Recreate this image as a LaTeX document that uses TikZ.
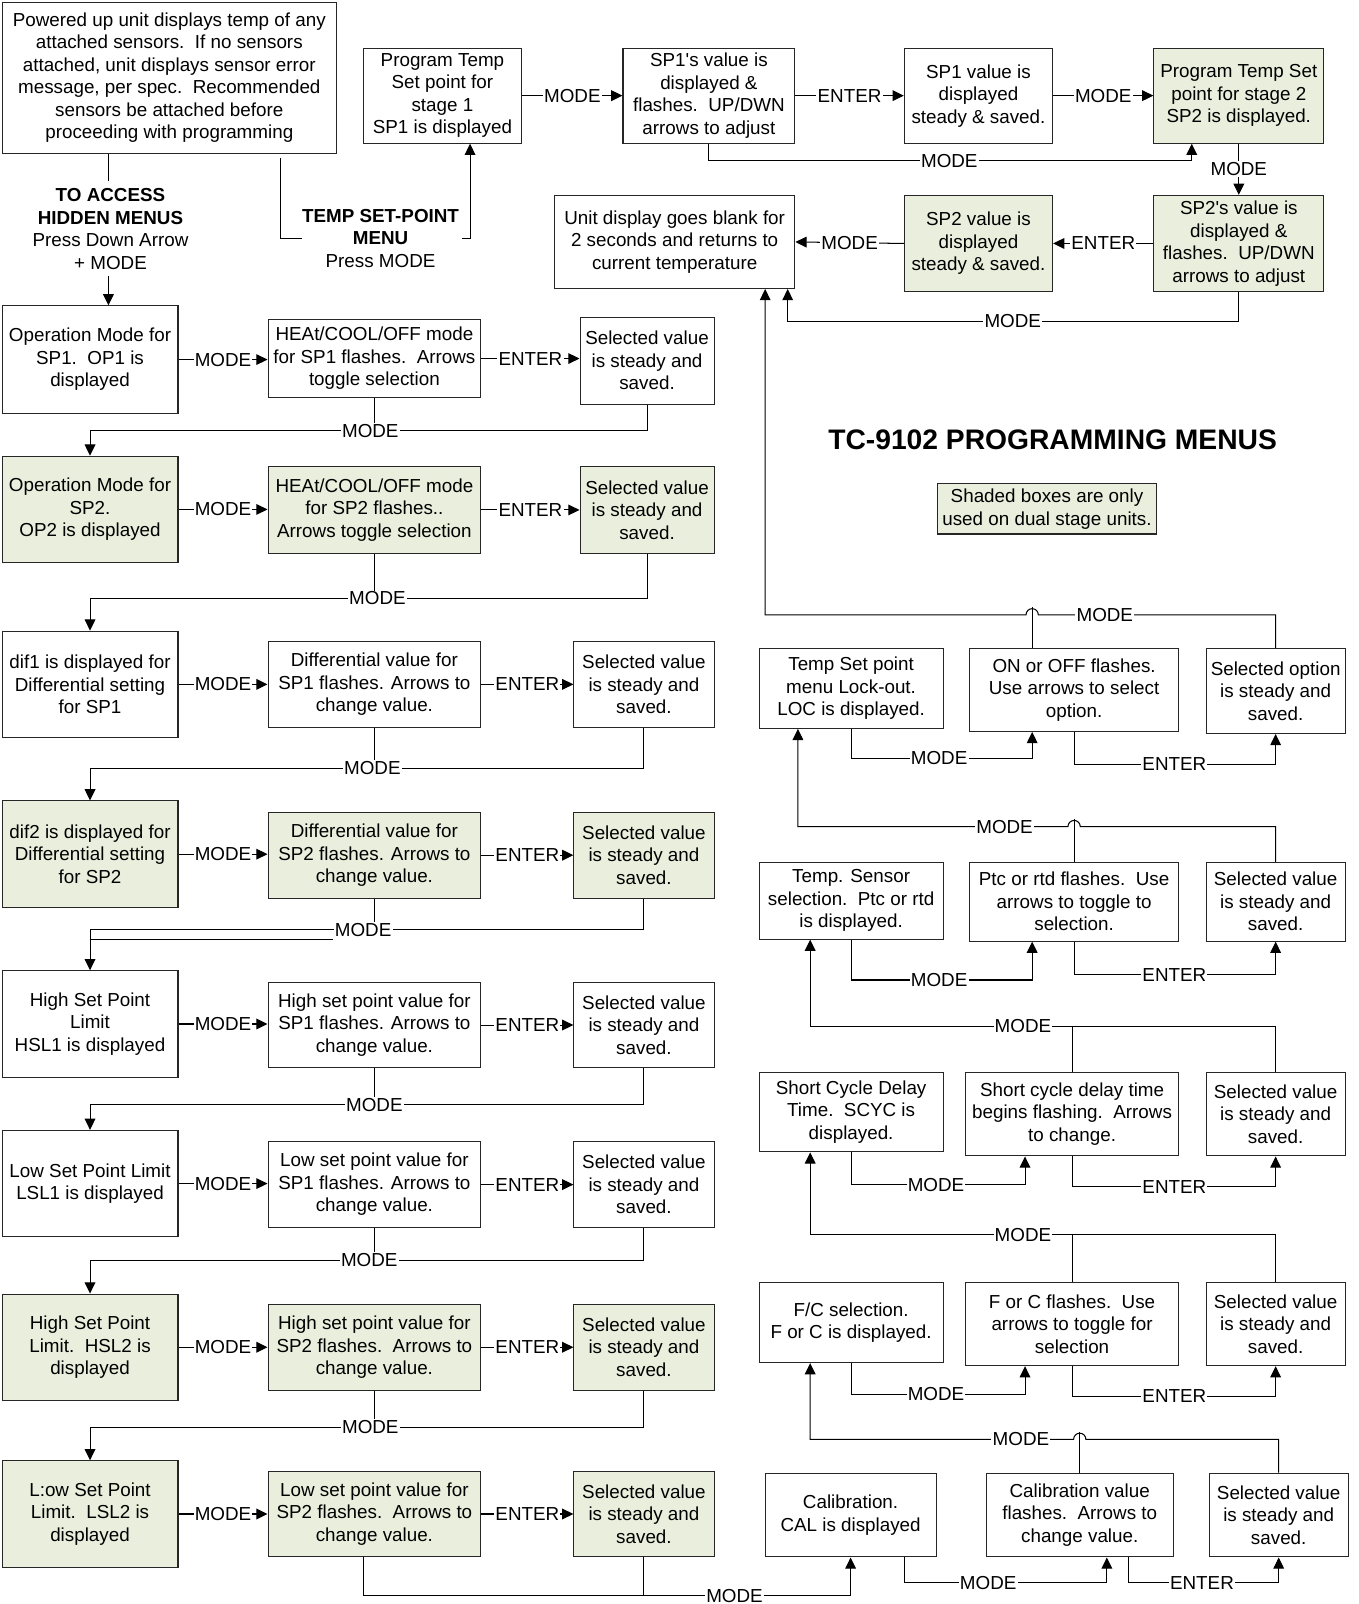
\documentclass[tikz,border=0pt]{standalone}
\usepackage{fontspec}
\setmainfont{Liberation Sans}[Ligatures=TeXOff]
\usetikzlibrary{arrows.meta,calc}
\definecolor{shade}{RGB}{234,239,221}
\newcommand\dfont{\fontsize{18.4pt}{22pt}\selectfont}
\newcommand\BX[7]{\node[box,fill=#6,minimum width={#4-#2},minimum height={#5-#3}] (#1) at ({(#2+#4)/2},{(#3+#5)/2}) {#7};}
\begin{document}
\begin{tikzpicture}[x=1pt,y=-1pt,line width=1pt,
  box/.style={draw=black!85,line width=1pt,align=center,inner sep=0pt,font=\dfont},
  lbl/.style={fill=white,inner sep=1.2pt,font=\dfont},
  txt/.style={align=center,inner sep=0pt,font=\dfont},
  arr/.style={-{Triangle[length=11pt,width=10.5pt]}}]
\useasboundingbox (0,0) rectangle (1328,1568);

% ---------- top area ----------
\BX{T0}{2}{2}{329}{150}{white}{Powered up unit displays temp of any\\attached sensors.~~If no sensors\\attached, unit displays sensor error\\message, per spec.~~Recommended\\sensors be attached before\\proceeding with programming}
\BX{B1}{355}{47}{510}{140}{white}{Program Temp\\Set point for\\stage 1\\SP1 is displayed}
\BX{B2}{609}{47}{777}{140}{white}{SP1's value is\\displayed \&\\flashes.~~UP/DWN\\arrows to adjust}
\BX{B3}{884}{47}{1029}{140}{white}{SP1 value is\\displayed\\steady \& saved.}
\BX{B4}{1128}{47}{1294}{140}{shade}{Program Temp Set\\point for stage 2\\SP2 is displayed.}
\BX{B5}{1128}{191}{1294}{285}{shade}{SP2's value is\\displayed \&\\flashes.~~UP/DWN\\arrows to adjust}
\BX{B6}{884}{191}{1029}{285}{shade}{SP2 value is\\displayed\\steady \& saved.}
\BX{B7}{542}{191}{777}{282}{white}{Unit display goes blank for\\2 seconds and returns to\\current temperature}

\node[txt] (hid) at (108,224) {\textbf{TO ACCESS}\\\textbf{HIDDEN MENUS}\\Press Down Arrow\\+ MODE};
\node[txt] (tsp) at (372,233) {\textbf{TEMP SET-POINT}\\\textbf{MENU}\\Press MODE};

\node[font=\bfseries\fontsize{27.6pt}{30pt}\selectfont,inner sep=0pt] (title) at (1029,430) {TC-9102 PROGRAMMING MENUS};
\BX{leg}{916}{473}{1131}{522}{shade}{Shaded boxes are only\\used on dual stage units.}

% ---------- left column ----------
\BX{L1}{2}{299}{174}{404}{white}{Operation Mode for\\SP1.~~OP1 is\\displayed}
\BX{M1}{262}{312}{470}{389}{white}{HEAt/COOL/OFF mode\\for SP1 flashes.~~Arrows\\toggle selection}
\BX{R1}{567}{310}{698}{395}{white}{Selected value\\is steady and\\saved.}

\BX{L2}{2}{446}{174}{550}{shade}{Operation Mode for\\SP2.\\OP2 is displayed}
\BX{M2}{262}{456}{470}{541}{shade}{HEAt/COOL/OFF mode\\for SP2 flashes..\\Arrows toggle selection}
\BX{R2}{567}{456}{698}{541}{shade}{Selected value\\is steady and\\saved.}

\BX{L3}{2}{617}{174}{721}{white}{dif1 is displayed for\\Differential setting\\for SP1}
\BX{M3}{262}{627}{470}{711}{white}{Differential value for\\SP1 flashes. Arrows to\\change value.}
\BX{R3}{561}{627}{698}{711}{white}{Selected value\\is steady and\\saved.}

\BX{L4}{2}{783}{174}{887}{shade}{dif2 is displayed for\\Differential setting\\for SP2}
\BX{M4}{262}{794}{470}{878}{shade}{Differential value for\\SP2 flashes. Arrows to\\change value.}
\BX{R4}{561}{794}{698}{878}{shade}{Selected value\\is steady and\\saved.}

\BX{L5}{2}{949}{174}{1053}{white}{High Set Point\\Limit\\HSL1 is displayed}
\BX{M5}{262}{960}{470}{1044}{white}{High set point value for\\SP1 flashes. Arrows to\\change value.}
\BX{R5}{561}{960}{698}{1044}{white}{Selected value\\is steady and\\saved.}

\BX{L6}{2}{1105}{174}{1209}{white}{Low Set Point Limit\\LSL1 is displayed}
\BX{M6}{262}{1116}{470}{1200}{white}{Low set point value for\\SP1 flashes. Arrows to\\change value.}
\BX{R6}{561}{1116}{698}{1200}{white}{Selected value\\is steady and\\saved.}

\BX{L7}{2}{1265}{174}{1369}{shade}{High Set Point\\Limit.~~HSL2 is\\displayed}
\BX{M7}{262}{1275}{470}{1359}{shade}{High set point value for\\SP2 flashes.~~Arrows to\\change value.}
\BX{R7}{561}{1275}{698}{1359}{shade}{Selected value\\is steady and\\saved.}

\BX{L8}{2}{1428}{174}{1532}{shade}{L:ow Set Point\\Limit.~~LSL2 is\\displayed}
\BX{M8}{262}{1438}{470}{1522}{shade}{Low set point value for\\SP2 flashes.~~Arrows to\\change value.}
\BX{R8}{561}{1438}{698}{1522}{shade}{Selected value\\is steady and\\saved.}

% ---------- right column ----------
\BX{A1}{742}{634}{922}{712}{white}{Temp Set point\\menu Lock-out.\\LOC is displayed.}
\BX{A2}{948}{634}{1152}{715}{white}{ON or OFF flashes.\\Use arrows to select\\option.}
\BX{A3}{1179}{634}{1315}{717}{white}{Selected option\\is steady and\\saved.}

\BX{Bb1}{742}{843}{922}{918}{white}{Temp. Sensor\\selection.~~Ptc or rtd\\is displayed.}
\BX{Bb2}{948}{843}{1152}{920}{white}{Ptc or rtd flashes.~~Use\\arrows to toggle to\\selection.}
\BX{Bb3}{1179}{843}{1315}{920}{white}{Selected value\\is steady and\\saved.}

\BX{C1}{742}{1048}{922}{1126}{white}{Short Cycle Delay\\Time.~~SCYC is\\displayed.}
\BX{C2}{944}{1048}{1152}{1130}{white}{Short cycle delay time\\begins flashing.~~Arrows\\to change.}
\BX{C3}{1179}{1048}{1315}{1130}{white}{Selected value\\is steady and\\saved.}

\BX{D1}{742}{1254}{922}{1332}{white}{F/C selection.\\F or C is displayed.}
\BX{D2}{944}{1254}{1152}{1335}{white}{F or C flashes.~~Use\\arrows to toggle for\\selection}
\BX{D3}{1179}{1254}{1315}{1335}{white}{Selected value\\is steady and\\saved.}

\BX{E1}{748}{1440}{915}{1522}{white}{Calibration.\\CAL is displayed}
\BX{E2}{964}{1440}{1147}{1522}{white}{Calibration value\\flashes.~~Arrows to\\change value.}
\BX{E3}{1182}{1440}{1318}{1522}{white}{Selected value\\is steady and\\saved.}

% ---------- coordinates ----------
\coordinate (ts1) at (274,154);
\coordinate (ts2) at (295,233);
\coordinate (ts3) at (452,233);
\coordinate (m1) at (366,421);
\coordinate (m2) at (366,585);
\coordinate (m3) at (366,751);
\coordinate (m4) at (366,909);
\coordinate (m5) at (366,1080);
\coordinate (m6) at (366,1232);
\coordinate (m7) at (366,1395);
\coordinate (m8) at (718,1560);
\coordinate (tm) at (928,157);
\coordinate (bm) at (990,314);
\coordinate (am) at (918,741);
\coordinate (ae) at (1148,747);
\coordinate (aj) at (1009,601);
\coordinate (bbm) at (918,958);
\coordinate (bbe) at (1148,953);
\coordinate (bbj) at (1050,808);
\coordinate (cm) at (915,1158);
\coordinate (ce) at (1148,1160);
\coordinate (cj) at (1000,1003);
\coordinate (dm) at (915,1363);
\coordinate (de) at (1148,1365);
\coordinate (dj) at (1000,1207);
\coordinate (em) at (966,1547);
\coordinate (ee) at (1175,1547);
\coordinate (ej) at (1055.5,1407);

% ---------- top connectors ----------
\draw ([xshift=-59.5pt]T0.south) -- ++(0,26);
\draw[arr] ([xshift=18pt,yshift=29pt]L1.north) -- ([xshift=18pt]L1.north);
\draw (ts1) |- (ts2);
\draw[arr] (ts3) -| ([xshift=27pt]B1.south);

\draw[arr] (B1.east) -- (B2.west) node[lbl,midway] (lb1) {MODE};
\draw[arr] (B2.east) -- (B3.west) node[lbl,midway] (lb2) {ENTER};
\draw[arr] (B3.east) -- (B4.west) node[lbl,midway] (lb3) {MODE};
\draw[arr] (B2.south) |- (tm) -| ([xshift=-46pt]B4.south);
\draw[arr] (B4.south) -- (B5.north) node[lbl,midway] (lb4) {MODE};
\draw[arr] (B5.west) -- (B6.east) node[lbl,midway] (lb5) {ENTER};
\draw[arr] (B6.west) -- (B7.east) node[lbl,midway] (lb6) {MODE};
\draw[arr] (B5.south) |- (bm) -| ([xshift=110.5pt]B7.south);

% ---------- left column connectors ----------
\foreach \i/\j in {1/2,2/3,3/4,4/5,5/6,6/7,7/8}{
  \draw[arr] (L\i.east) -- (L\i.east -| M\i.west) node[lbl,midway] {MODE};
  \draw[arr] (M\i.east) -- (M\i.east -| R\i.west) node[lbl,midway] {ENTER};
  \draw[arr] (R\i.south) |- (m\i) -| (L\j.north);
  \draw (M\i.south) -- (m\i);
}
\draw[arr] (L8.east) -- (L8.east -| M8.west) node[lbl,midway] (lm8) {MODE};
\draw[arr] (M8.east) -- (M8.east -| R8.west) node[lbl,midway] (le8) {ENTER};
\draw[arr] ([xshift=-11pt]M8.south) |- (m8) -| (E1.south);
\draw (R8.south) -- (R8.south |- m8);

% ---------- right column connectors ----------
\draw[arr] (A1.south) |- (am) -| ([xshift=-41pt]A2.south);
\draw[arr] (A2.south) |- (ae) -| (A3.south);
\draw ([xshift=-41pt]A2.north) -- ++(0,-40);
\draw[arr] (A3.north) |- ([xshift=6pt]aj) arc[start angle=0,end angle=180,radius=6pt] -| ([xshift=88.5pt]B7.south);

\draw[arr] (Bb1.south) |- (bbm) -| ([xshift=-41pt]Bb2.south);
\draw[arr] (Bb2.south) |- (bbe) -| (Bb3.south);
\draw (Bb2.north) -- ++(0,-42);
\draw[arr] (Bb3.north) |- ([xshift=6pt]bbj) arc[start angle=0,end angle=180,radius=6pt] -| ([xshift=-52pt]A1.south);

\draw[arr] (C1.south) |- (cm) -| ([xshift=-46pt]C2.south);
\draw[arr] (C2.south) |- (ce) -| (C3.south);
\draw (C2.north) -- (C2.north |- cj);
\draw[arr] (C3.north) |- (cj) -| ([xshift=-40pt]Bb1.south);

\draw[arr] (D1.south) |- (dm) -| ([xshift=-46pt]D2.south);
\draw[arr] (D2.south) |- (de) -| (D3.south);
\draw (D2.north) -- (D2.north |- dj);
\draw[arr] (D3.north) |- (dj) -| ([xshift=-40pt]C1.south);

\draw[arr] ([xshift=52.5pt]E1.south) |- (em) -| ([xshift=26.5pt]E2.south);
\draw[arr] ([xshift=47.5pt]E2.south) |- (ee) -| (E3.south);
\draw (E2.north) -- ++(0,-40);
\draw[arr] (E3.north) |- ([xshift=6pt]ej) arc[start angle=0,end angle=180,radius=6pt] -| ([xshift=-40pt]D1.south);

% ---------- labels on connectors ----------
\node[lbl] (lt) at (tm) {MODE};
\node[lbl] (lb) at (bm) {MODE};
\node[lbl] (l1) at (362,421) {MODE};
\node[lbl] (l2) at (369,585) {MODE};
\node[lbl] (l3) at (364,751) {MODE};
\node[lbl] (l4) at (355,909) {MODE};
\node[lbl] (l5) at (m5) {MODE};
\node[lbl] (l6) at (361,1232) {MODE};
\node[lbl] (l7) at (362,1395) {MODE};
\node[lbl] (l8) at (m8) {MODE};
\draw ([yshift=-9pt]l4.west -| L5.north) -- ([yshift=-9pt]l4.west);
\node[lbl] (la0) at (1080,601) {MODE};
\node[lbl] (la1) at (am) {MODE};
\node[lbl] (la2) at (ae) {ENTER};
\node[lbl] (lbb0) at (982,808) {MODE};
\node[lbl] (lbb1) at (bbm) {MODE};
\node[lbl] (lbb2) at (bbe) {ENTER};
\node[lbl] (lc0) at (cj) {MODE};
\node[lbl] (lc1) at (cm) {MODE};
\node[lbl] (lc2) at (ce) {ENTER};
\node[lbl] (ld0) at (dj) {MODE};
\node[lbl] (ld1) at (dm) {MODE};
\node[lbl] (ld2) at (de) {ENTER};
\node[lbl] (le0) at (998,1407) {MODE};
\node[lbl] (le1) at (em) {MODE};
\node[lbl] (le2) at (ee) {ENTER};
\end{tikzpicture}
\end{document}
